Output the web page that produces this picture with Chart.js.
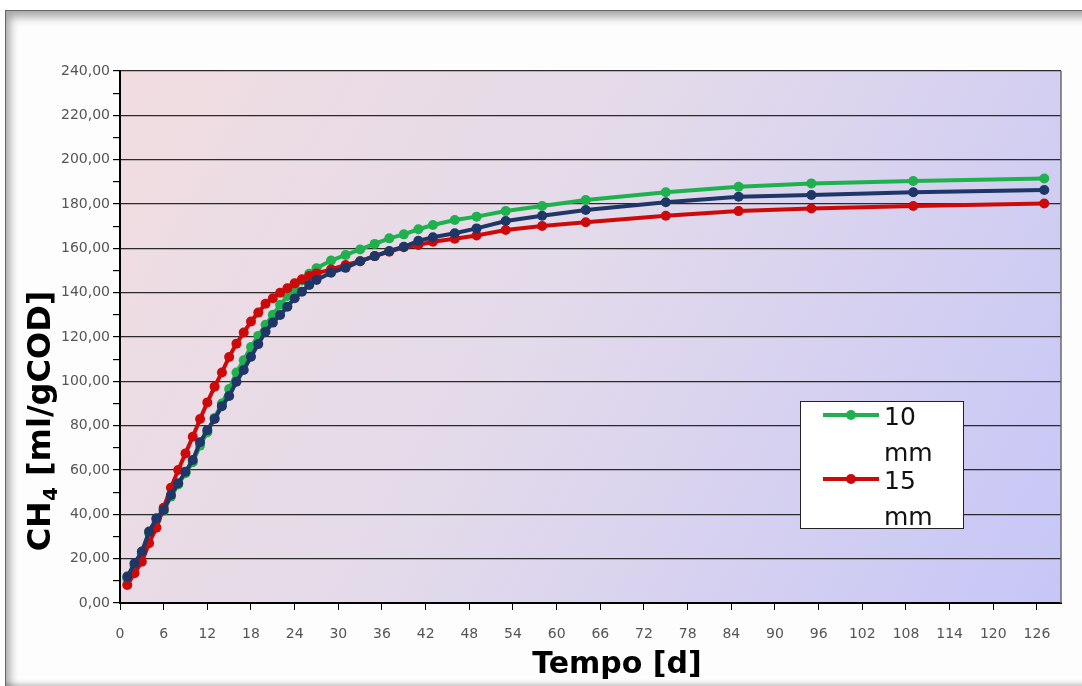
<!DOCTYPE html>
<html><head><meta charset="utf-8">
<script src="https://cdn.jsdelivr.net/npm/chart.js@4.4.1/dist/chart.umd.min.js"></script>
<style>
html,body{margin:0;padding:0;background:#fff;width:1082px;height:686px;overflow:hidden;}
#frame{position:absolute;left:5px;top:10px;width:1100px;height:675px;border-top:1px solid #666;border-left:1px solid #666;
  box-shadow: inset 7px 9px 10px -3px rgba(0,0,0,0.35), inset 0 -5px 5px -3px rgba(0,0,0,0.25);background:#fdfdfd;}
#wrap{position:absolute;left:0;top:0;width:1082px;height:686px;}
</style></head><body>
<div id="frame"></div>
<div id="wrap"><canvas id="c" width="1082" height="686"></canvas></div>
<script>
// ---- data ----
const days = [1,2,3,4,5,6,7,8,9,10,11,12,13,14,15,16,17,18,19,20,21,22,23,24,25,26,27,
  29,31,33,35,37,39,41,43,46,49,53,58,64,75,85,95,109,127];
const series10mm = [11,17,22.5,31.5,37.5,41.5,48,53.5,58.5,63.5,71,77,83.5,90,96.5,104,109.5,115.5,120.5,125.5,130,134.5,138.5,142,145.5,148.5,151,
  154.5,157,159.5,162,164.5,166.3,168.6,170.5,172.8,174.3,176.8,179.1,181.8,185.3,187.8,189.3,190.4,191.5];
const series15mm = [8.1,13.4,18.6,27,34,43,52,60,67.5,75,83,90.5,97.6,104,111,117,122,127,131,135,137.5,140,142,144.2,146,147.5,148.7,
  150.5,152.5,154.2,156.5,158.5,160.5,161.5,163,164.3,165.8,168.3,170.1,171.8,174.7,176.8,178,179.1,180.2];
const seriesNavy = [11.9,17.9,23.2,32.2,38.2,42,48.7,54,59.2,64.5,72.5,78,83,88.8,93.4,99.8,105.1,111.1,116.8,122.4,126.5,129.9,133.7,137.5,140.4,143.5,145.7,
  149,151.2,154.2,156.5,158.8,160.7,163.4,165,166.8,169,172.3,174.7,177.3,180.8,183.3,184.1,185.3,186.3];
const seriesLabels = ['10 mm', '15 mm', ''];
const xTickValues = [0,6,12,18,24,30,36,42,48,54,60,66,72,78,84,90,96,102,108,114,120,126];
const xTitle = 'Tempo [d]';
const yTitleParts = ['CH', '4', ' [ml/gCOD]'];

const colors = ['#1fb14e', '#cc0a0a', '#1e3766'];
const toPts = arr => days.map((d, i) => ({x: d, y: arr[i]}));

function mkSet(label, arr, color, order) {
  return {label, data: toPts(arr), borderColor: color, backgroundColor: color,
    borderWidth: 4, pointRadius: 5, pointHoverRadius: 5, pointBorderWidth: 0,
    tension: 0, order, showLine: true, fill: false};
}

const fmt = v => v.toFixed(2).replace('.', ',');

const decor = {
  id: 'decor',
  beforeDraw(chart) {
    const {ctx, chartArea: a} = chart;
    ctx.save();
    const g = ctx.createLinearGradient(a.left, a.top, a.right, a.bottom);
    g.addColorStop(0, '#f1dde0');
    g.addColorStop(0.45, '#e3daea');
    g.addColorStop(1, '#c6c6f7');
    ctx.fillStyle = g;
    ctx.fillRect(a.left, a.top, a.right - a.left, a.bottom - a.top);
    ctx.restore();
  },
  beforeDatasetsDraw(chart) {
    const {ctx, chartArea: a} = chart;
    ctx.save();
    ctx.strokeStyle = '#6a6a6a';
    ctx.lineWidth = 1.5;
    ctx.beginPath();
    ctx.moveTo(a.right, a.top);
    ctx.lineTo(a.right, a.bottom);
    ctx.stroke();
    ctx.restore();
  },
  afterDraw(chart) {
    const {ctx, chartArea: a} = chart;
    ctx.save();
    // X title
    ctx.fillStyle = '#000';
    ctx.font = 'bold 30px "DejaVu Sans"';
    ctx.textAlign = 'center';
    ctx.textBaseline = 'alphabetic';
    ctx.fillText(xTitle, 617, 673);
    // Y title with subscript
    ctx.translate(38, 421);
    ctx.rotate(-Math.PI / 2);
    const fonts = ['bold 32px "DejaVu Sans"', 'bold 20px "DejaVu Sans"', 'bold 32px "DejaVu Sans"'];
    const dys = [0, 7, 0];
    let total = 0;
    const ws = yTitleParts.map((t, i) => { ctx.font = fonts[i]; const w = ctx.measureText(t).width; total += w; return w; });
    let x = -total / 2;
    ctx.textAlign = 'left';
    yTitleParts.forEach((t, i) => {
      ctx.font = fonts[i];
      ctx.fillText(t, x, 11.5 + dys[i]);
      x += ws[i];
    });
    ctx.restore();

    // Legend
    ctx.save();
    const bx = 800, by = 401, bw = 163, bh = 127;
    ctx.fillStyle = '#fff';
    ctx.fillRect(bx, by, bw, bh);
    ctx.strokeStyle = '#222';
    ctx.lineWidth = 1;
    ctx.strokeRect(bx + 0.5, by + 0.5, bw, bh);
    const entries = chart.data.datasets.filter(d => d.label);
    entries.forEach((ds, i) => {
      const ly = 415 + i * 64;
      ctx.strokeStyle = ds.borderColor;
      ctx.lineWidth = 4;
      ctx.beginPath();
      ctx.moveTo(823, ly);
      ctx.lineTo(879, ly);
      ctx.stroke();
      ctx.fillStyle = ds.borderColor;
      ctx.beginPath();
      ctx.arc(851, ly, 5, 0, Math.PI * 2);
      ctx.fill();
      ctx.fillStyle = '#111';
      ctx.font = '25px "DejaVu Sans"';
      ctx.textAlign = 'left';
      ctx.textBaseline = 'alphabetic';
      const lines = ds.label.split(' ');
      lines.forEach((t, j) => ctx.fillText(t, 884, ly + 10 + j * 36));
    });
    ctx.restore();
  }
};

new Chart(document.getElementById('c'), {
  type: 'line',
  data: {
    datasets: [
      mkSet(seriesLabels[0], series10mm, colors[0], 3),
      mkSet(seriesLabels[1], series15mm, colors[1], 2),
      mkSet(seriesLabels[2], seriesNavy, colors[2], 1)
    ]
  },
  options: {
    responsive: false,
    animation: false,
    devicePixelRatio: 1,
    layout: {padding: {left: 0, right: 21, top: 71, bottom: 0}},
    plugins: {legend: {display: false}, tooltip: {enabled: false}, title: {display: false}},
    scales: {
      x: {
        type: 'linear', min: 0, max: 129.3,
        afterBuildTicks: s => { s.ticks = xTickValues.map(v => ({value: v})); },
        afterFit: s => { s.height = 83; },
        ticks: {color: '#555', font: {family: 'DejaVu Sans', size: 14}, padding: 16, maxRotation: 0, autoSkip: false,
          callback: v => String(v)},
        grid: {drawOnChartArea: false, drawTicks: true, tickLength: 7, tickColor: '#000', color: '#000'},
        border: {color: '#000', width: 2}
      },
      y: {
        min: 0, max: 240,
        afterFit: s => { s.width = 120; },
        ticks: {stepSize: 10, color: '#555', font: {family: 'DejaVu Sans', size: 14}, padding: 3,
          callback: v => (v % 20 === 0 ? fmt(v) : '')},
        grid: {color: c => (c.tick && c.tick.value % 20 === 0) ? '#2a2a2a' : 'rgba(0,0,0,0)',
          lineWidth: 1.2, tickLength: 7, tickColor: '#000'},
        border: {color: '#000', width: 2}
      }
    }
  },
  plugins: [decor]
});
</script>
</body></html>
